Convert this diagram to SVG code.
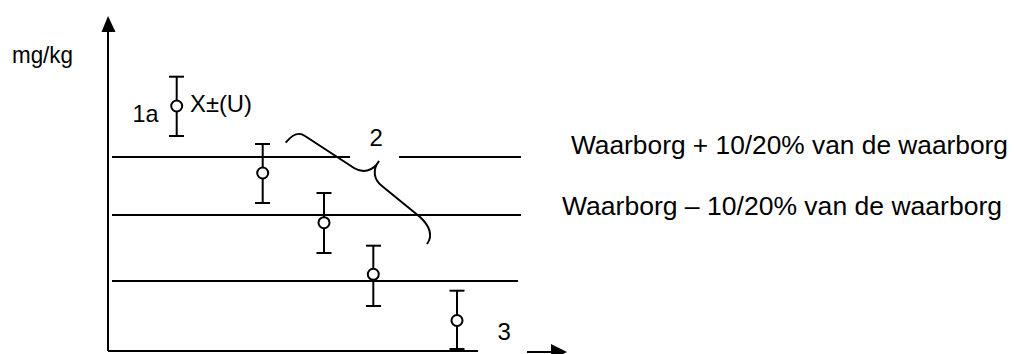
<svg xmlns="http://www.w3.org/2000/svg" width="1014" height="354" viewBox="0 0 1014 354">
  <style>
    .ln { stroke: #000; stroke-width: 2; fill: none; }
    .pt { stroke: #000; stroke-width: 2; fill: #fff; }
    .tx { font-family: "Liberation Sans", Arial, sans-serif; font-size: 24px; fill: #000; }
    .big { font-size: 25px; }
  </style>
  <rect width="1014" height="354" fill="#fff"/>

  <g id="axes">
    <line class="ln" x1="108" y1="30" x2="108" y2="351"/>
    <path d="M108,16 L101.5,32 L115.5,32 Z" fill="#000"/>
    <line class="ln" x1="108" y1="351" x2="478" y2="351"/>
    <line class="ln" x1="527" y1="352" x2="552" y2="352"/>
    <path d="M567,352 L551,344 L551,360 Z" fill="#000"/>
    <text class="tx" x="12" y="63" font-size="22" textLength="61" lengthAdjust="spacingAndGlyphs">mg/kg</text>
  </g>

  <g id="levels">
    <line class="ln" x1="112" y1="157" x2="521" y2="157"/>
    <line class="ln" x1="112" y1="215" x2="521" y2="215"/>
    <line class="ln" x1="112" y1="281" x2="518" y2="281"/>
  </g>

  <g id="bar1">
    <line class="ln" x1="176.7" y1="76.7" x2="176.7" y2="136"/>
    <line class="ln" x1="169" y1="76.7" x2="184" y2="76.7"/>
    <line class="ln" x1="169" y1="136" x2="184" y2="136"/>
    <circle class="pt" cx="176.7" cy="106" r="5.5"/>
    <text class="tx" x="132.5" y="122" textLength="26" lengthAdjust="spacingAndGlyphs">1a</text>
    <text class="tx" x="190" y="112" textLength="62" lengthAdjust="spacingAndGlyphs">X±(U)</text>
  </g>
  <g id="bar2">
    <line class="ln" x1="262.7" y1="144" x2="262.7" y2="203"/>
    <line class="ln" x1="255" y1="144" x2="270" y2="144"/>
    <line class="ln" x1="255" y1="203" x2="270" y2="203"/>
    <circle class="pt" cx="262.7" cy="173" r="5.5"/>
  </g>
  <g id="bar3">
    <line class="ln" x1="324" y1="193" x2="324" y2="253"/>
    <line class="ln" x1="316.5" y1="193" x2="331.5" y2="193"/>
    <line class="ln" x1="316.5" y1="253" x2="331.5" y2="253"/>
    <circle class="pt" cx="324" cy="222.7" r="5.5"/>
  </g>
  <g id="bar4">
    <line class="ln" x1="373.3" y1="245.7" x2="373.3" y2="306"/>
    <line class="ln" x1="366" y1="245.7" x2="381" y2="245.7"/>
    <line class="ln" x1="366" y1="306" x2="381" y2="306"/>
    <circle class="pt" cx="373.3" cy="274.3" r="5.5"/>
  </g>
  <g id="bar5">
    <line class="ln" x1="457" y1="290.7" x2="457" y2="349"/>
    <line class="ln" x1="449.5" y1="290.7" x2="464.5" y2="290.7"/>
    <line class="ln" x1="449.5" y1="349" x2="464.5" y2="349"/>
    <circle class="pt" cx="457" cy="320.5" r="5.5"/>
    <text class="tx" x="497.5" y="339.5">3</text>
  </g>

  <g id="label2">
    <rect x="350" y="126" width="49" height="32.5" fill="#fff"/>
    <path class="ln" d="M285.7,142.7 C292,135 298,131 305,136 L354,168 C362,173 373,172 379,161 C372,170 374,180 382,186 L420,217 C430,226 433,236 427,244"/>
    <text class="tx" x="369.5" y="146">2</text>
  </g>

  <g id="legend">
    <text class="tx big" x="571" y="154" textLength="437" lengthAdjust="spacingAndGlyphs">Waarborg + 10/20% van de waarborg</text>
    <text class="tx big" x="562" y="215" textLength="440" lengthAdjust="spacingAndGlyphs">Waarborg – 10/20% van de waarborg</text>
  </g>
</svg>
